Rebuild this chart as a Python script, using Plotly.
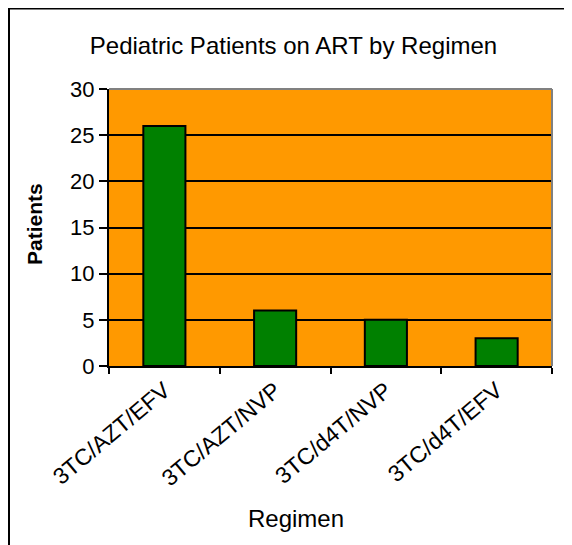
import plotly.graph_objects as go

regimens = ["3TC/AZT/EFV", "3TC/AZT/NVP", "3TC/d4T/NVP", "3TC/d4T/EFV"]
patients = [26, 6, 5, 3]

title_text = "Pediatric Patients on ART by Regimen"
x_title = "Regimen"
y_title = "Patients"

FONT = "Liberation Sans, Arial, sans-serif"

# page has an 8px body margin, so the figure is 8px smaller each way
fig = go.Figure()
fig.add_trace(go.Bar(
    x=regimens, y=patients,
    marker=dict(color="#008000", line=dict(color="black", width=2)),
))

fig.update_layout(
    width=564, height=537,
    margin=dict(l=101, r=20, t=81, b=179),
    paper_bgcolor="white",
    plot_bgcolor="#FF9900",
    bargap=0.62,
    showlegend=False,
    font=dict(family=FONT, color="black", size=22),
    title=dict(text=title_text, x=285.5 / 564, xref="container", xanchor="center",
               y=1 - 38 / 537, yref="container", yanchor="middle",
               font=dict(family=FONT, size=24, color="black")),
)

fig.update_yaxes(
    range=[0, 30], dtick=5, showgrid=True, gridcolor="black", gridwidth=1.5,
    showline=True, linecolor="black", linewidth=2,
    ticks="outside", ticklen=8, tickcolor="black", tickwidth=2,
    tickfont=dict(size=22), zeroline=False, fixedrange=True,
)
fig.update_xaxes(
    tickangle=-40, showline=True, linecolor="black", linewidth=2,
    ticks="outside", tickson="boundaries", ticklen=6, tickcolor="black", tickwidth=2,
    tickfont=dict(size=23), showgrid=False,
)

# grey border on top and right of plot area
fig.add_shape(type="line", xref="paper", yref="paper", x0=0, x1=1, y0=1, y1=1,
              line=dict(color="#808080", width=2))
fig.add_shape(type="line", xref="paper", yref="paper", x0=1, x1=1, y0=0, y1=1,
              line=dict(color="#808080", width=2))

# outer chart frame (left and top edges visible)
fx = -101 / 443
fy = 1 + 81 / 277
fig.add_shape(type="line", xref="paper", yref="paper", x0=fx, x1=fx,
              y0=-0.8, y1=fy, line=dict(color="black", width=4))
fig.add_shape(type="line", xref="paper", yref="paper", x0=fx, x1=1.2,
              y0=fy, y1=fy, line=dict(color="black", width=3))

fig.add_annotation(text=y_title, xref="paper", yref="paper", x=(27 - 101) / 443,
                   y=0.513, xanchor="center", yanchor="middle",
                   textangle=-90, showarrow=False,
                   font=dict(family=FONT, size=21, color="black", weight="bold"))
fig.add_annotation(text=x_title, xref="paper", yref="paper", x=(288 - 101) / 443,
                   y=(358 - 510) / 277, xanchor="center", yanchor="middle",
                   showarrow=False, font=dict(family=FONT, size=24, color="black"))

fig.write_html("out.html")
